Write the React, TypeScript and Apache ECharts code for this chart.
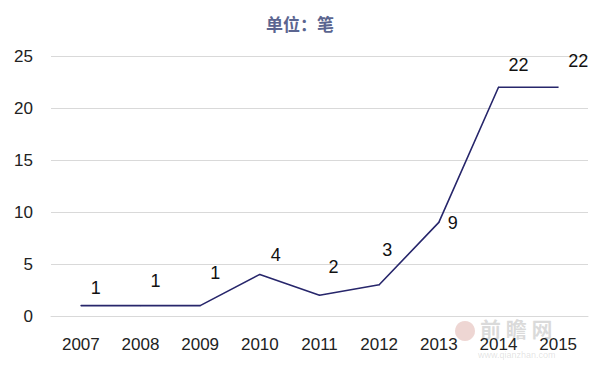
import React, { useEffect, useRef } from "react";
import * as echarts from "echarts";

const years = ["2007", "2008", "2009", "2010", "2011", "2012", "2013", "2014", "2015"];
const counts = [1, 1, 1, 4, 2, 3, 9, 22, 22];
const yTicks = { min: 0, max: 25, interval: 5 };
const titleText = "单位：笔";
// value-label offsets (pixels, from each point), as placed in the reference
const labelOffsets: [number, number][] = [
  [15, -18], [15, -25], [15, -33], [16, -19], [14, -28], [8, -35], [14, 1], [20, -22], [20, -26],
];

export default function App() {
  const ref = useRef<HTMLDivElement>(null);
  useEffect(() => {
    const chart = echarts.init(ref.current!, null, { renderer: "svg" });
    chart.setOption({
      animation: false,
      title: {
        text: titleText,
        left: "center",
        top: 10,
        textStyle: { color: "#5b6590", fontSize: 17, fontWeight: "bold", fontFamily: "Noto Sans CJK SC" },
      },
      grid: { left: 51, right: 12, top: 56, bottom: 52 },
      xAxis: {
        type: "category",
        data: years,
        boundaryGap: true,
        axisLine: { lineStyle: { color: "#d9d9d9" } },
        axisTick: { show: false },
        axisLabel: { color: "#222", fontSize: 17, margin: 20, fontFamily: "Liberation Sans" },
      },
      yAxis: {
        type: "value",
        min: yTicks.min,
        max: yTicks.max,
        interval: yTicks.interval,
        axisLine: { show: false },
        axisTick: { show: false },
        splitLine: { lineStyle: { color: "#d9d9d9" } },
        axisLabel: { color: "#222", fontSize: 17, margin: 18, fontFamily: "Liberation Sans" },
      },
      series: [
        {
          type: "line",
          data: counts.map((v, i) => ({ value: v, label: { offset: labelOffsets[i] } })),
          symbol: "circle",
          symbolSize: 1,
          showSymbol: true,
          itemStyle: { color: "#27266b" },
          lineStyle: { color: "#27266b", width: 1.6 },
          label: {
            show: true,
            position: "inside",
            align: "center",
            verticalAlign: "middle",
            color: "#111",
            fontSize: 18,
            fontFamily: "Liberation Sans",
          },
        },
      ],
      graphic: [
        {
          type: "circle",
          shape: { cx: 465, cy: 331, r: 10 },
          style: { fill: "rgba(200,120,110,0.3)" },
        },
        {
          type: "text",
          x: 480,
          y: 317,
          style: { text: "前 瞻 网", fill: "rgba(150,150,150,0.35)", fontSize: 21, fontWeight: "bold", fontFamily: "Noto Sans CJK SC" },
        },
        {
          type: "text",
          x: 478,
          y: 350,
          style: { text: "www.qianzhan.com", fill: "rgba(160,160,160,0.3)", fontSize: 9, fontFamily: "Liberation Sans" },
        },
      ],
    });
    return () => chart.dispose();
  }, []);
  return <div ref={ref} style={{ width: 600, height: 368, position: "absolute", left: 0, top: 0, background: "#fff" }} />;
}
